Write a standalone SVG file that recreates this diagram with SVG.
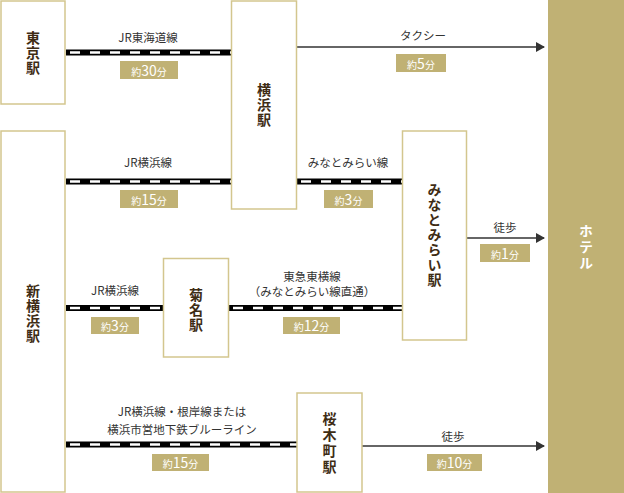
<svg xmlns="http://www.w3.org/2000/svg" width="624" height="493" viewBox="0 0 624 493">
<defs>
<style>
.box{fill:#fff;stroke:#d3c68e;stroke-width:1.5}
.st{font-family:"Noto Sans CJK JP",sans-serif;font-size:14px;font-weight:bold;fill:#3e2c14;text-anchor:middle;writing-mode:vertical-rl;letter-spacing:1px}
.lb{font-family:"Noto Sans CJK JP",sans-serif;font-size:11.5px;fill:#333;text-anchor:middle}
.bd{fill:#c0b174}
.bt{font-family:"Noto Sans CJK JP",sans-serif;font-size:10px;fill:#fff;text-anchor:middle}
.bt .n{font-size:14px}
.rb{stroke:#000;stroke-width:6;fill:none}
.rw{stroke:#fff;stroke-width:2.6;stroke-dasharray:10 10;fill:none}
.ar{stroke:#333;stroke-width:1.5;fill:none}
</style>
<marker id="ah" markerWidth="10" markerHeight="10" refX="8" refY="5" orient="auto" markerUnits="userSpaceOnUse">
<path d="M0,0 L9,5 L0,10 Z" fill="#333"/>
</marker>
</defs>
<rect width="624" height="493" fill="#fff"/>

<g id="connectors">
<line class="rb" x1="66" y1="52.5" x2="231" y2="52.5"/>
<line class="rw" x1="66" y1="52.5" x2="231" y2="52.5" stroke-dashoffset="-4"/>
<line class="ar" x1="296" y1="47" x2="544" y2="47" marker-end="url(#ah)"/>
<line class="rb" x1="66" y1="181.5" x2="231" y2="181.5"/>
<line class="rw" x1="66" y1="181.5" x2="231" y2="181.5" stroke-dashoffset="-4"/>
<line class="rb" x1="297" y1="181.5" x2="402" y2="181.5"/>
<line class="rw" x1="297" y1="181.5" x2="402" y2="181.5" stroke-dashoffset="-4"/>
<line class="ar" x1="467" y1="238" x2="544" y2="238" marker-end="url(#ah)"/>
<line class="rb" x1="66" y1="308" x2="163" y2="308"/>
<line class="rw" x1="66" y1="308" x2="163" y2="308" stroke-dashoffset="-4"/>
<line class="rb" x1="229" y1="308" x2="402" y2="308"/>
<line class="rw" x1="229" y1="308" x2="402" y2="308" stroke-dashoffset="-4"/>
<line class="rb" x1="66" y1="444.5" x2="297" y2="444.5"/>
<line class="rw" x1="66" y1="444.5" x2="297" y2="444.5" stroke-dashoffset="-4"/>
<line class="ar" x1="362" y1="446" x2="544" y2="446" marker-end="url(#ah)"/>

<text class="lb" x="148" y="42">JR東海道線</text>
<rect class="bd" x="120" y="61" width="58" height="18"/>
<text class="bt" x="149" y="75.5">約<tspan class="n">30</tspan>分</text>

<text class="lb" x="423" y="40">タクシー</text>
<rect class="bd" x="396" y="54" width="50" height="18"/>
<text class="bt" x="421" y="68.5">約<tspan class="n">5</tspan>分</text>

<text class="lb" x="148" y="167">JR横浜線</text>
<rect class="bd" x="120" y="190" width="58" height="18"/>
<text class="bt" x="149" y="204.5">約<tspan class="n">15</tspan>分</text>

<text class="lb" x="348" y="167">みなとみらい線</text>
<rect class="bd" x="324" y="190" width="49" height="18"/>
<text class="bt" x="348.5" y="204.5">約<tspan class="n">3</tspan>分</text>

<text class="lb" x="505" y="232">徒歩</text>
<rect class="bd" x="480" y="244" width="50" height="18"/>
<text class="bt" x="505" y="258.5">約<tspan class="n">1</tspan>分</text>

<text class="lb" x="115" y="295">JR横浜線</text>
<rect class="bd" x="91" y="317" width="48" height="17"/>
<text class="bt" x="115" y="331">約<tspan class="n">3</tspan>分</text>

<text class="lb" x="312" y="281">東急東横線</text>
<text class="lb" x="312" y="296">（みなとみらい線直通）</text>
<rect class="bd" x="283" y="317" width="57" height="17"/>
<text class="bt" x="311.5" y="331">約<tspan class="n">12</tspan>分</text>

<text class="lb" x="182" y="416">JR横浜線・根岸線または</text>
<text class="lb" x="182" y="434">横浜市営地下鉄ブルーライン</text>
<rect class="bd" x="152" y="454" width="57" height="17"/>
<text class="bt" x="180.5" y="468">約<tspan class="n">15</tspan>分</text>

<text class="lb" x="453" y="441">徒歩</text>
<rect class="bd" x="427" y="454" width="55" height="17"/>
<text class="bt" x="454.5" y="468">約<tspan class="n">10</tspan>分</text>
</g>

<g id="tokyo">
<rect class="box" x="1" y="1" width="64" height="103"/>
<text class="st" x="33" y="53">東京駅</text>
</g>

<g id="shinyokohama">
<rect class="box" x="1" y="131" width="64" height="361"/>
<text class="st" x="33" y="314">新横浜駅</text>
</g>

<g id="yokohama">
<rect class="box" x="231.5" y="1" width="65" height="208"/>
<text class="st" x="264" y="105">横浜駅</text>
</g>

<g id="kikuna">
<rect class="box" x="163.5" y="258.5" width="65" height="98.5"/>
<text class="st" x="196" y="310">菊名駅</text>
</g>

<g id="minatomirai">
<rect class="box" x="402.5" y="131" width="64" height="209"/>
<text class="st" x="434.5" y="235">みなとみらい駅</text>
</g>

<g id="sakuragicho">
<rect class="box" x="297" y="393" width="65" height="99"/>
<text class="st" x="329.5" y="444" style="letter-spacing:2px">桜木町駅</text>
</g>

<g id="hotel">
<rect x="548" y="0" width="76" height="493" fill="#c0b174"/>
<text class="st" x="586" y="248" style="fill:#fff;letter-spacing:2px">ホテル</text>
</g>
</svg>
